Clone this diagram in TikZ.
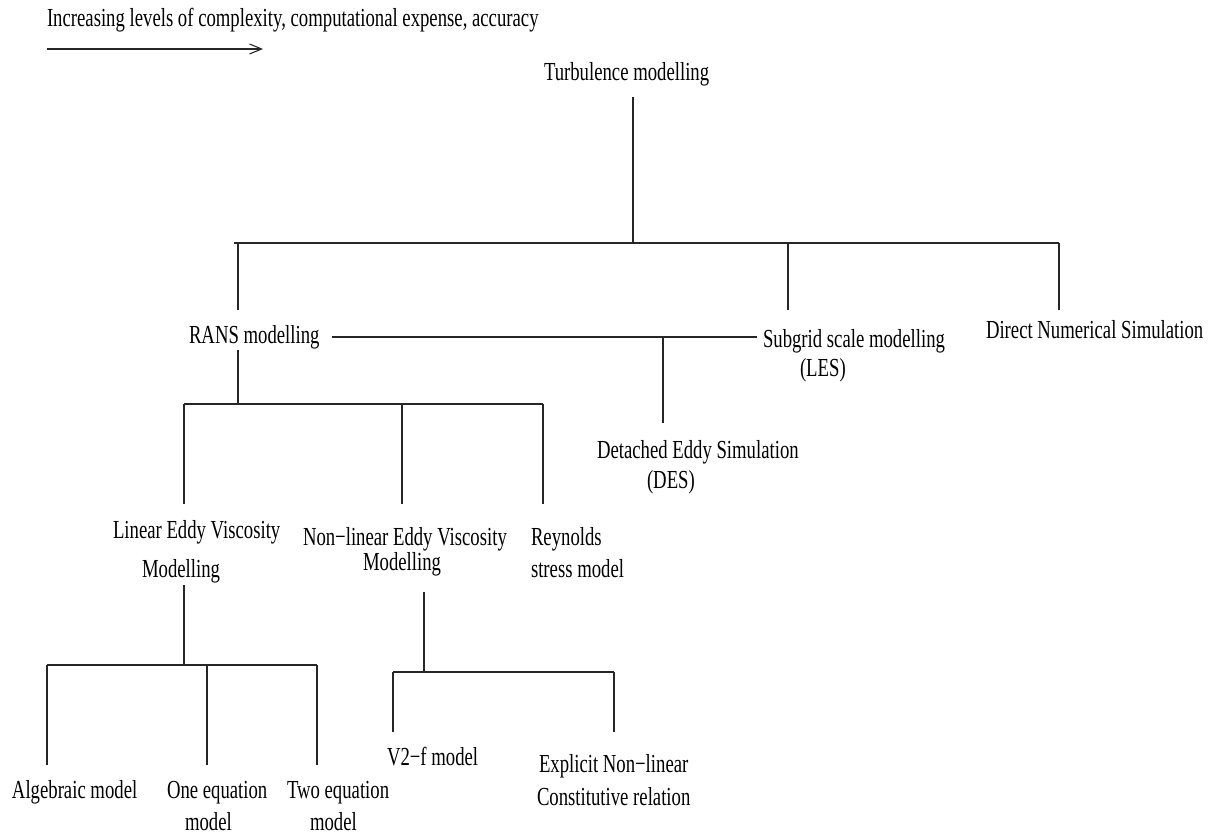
\documentclass[tikz,border=0pt]{standalone}
\usepackage{fontspec}
\setmainfont{Liberation Serif}[FakeStretch=0.72]
\usetikzlibrary{arrows.meta}
\begin{document}
\begin{tikzpicture}[x=1pt,y=-1pt,
  lab/.style={anchor=base west,inner sep=0pt,outer sep=0pt,font=\fontsize{26}{30}\selectfont},
  ln/.style={line width=1.1pt,line cap=butt,draw=black!85}]
\useasboundingbox (0,0) rectangle (1212,834);
% ---- labels ----
\node[lab] (title) at (47,27) {Increasing levels of complexity, computational expense, accuracy};
\node[lab] (turb) at (544,81) {Turbulence modelling};
\node[lab] (rans) at (189,343) {RANS modelling};
\node[lab] (sgsA) at (763,347) {Subgrid scale modelling};
\node[lab] (sgsB) at (800,376) {(LES)};
\node[lab] (dns) at (986,338) {Direct Numerical Simulation};
\node[lab] (desA) at (597,458) {Detached Eddy Simulation};
\node[lab] (desB) at (647,488) {(DES)};
\node[lab] (linA) at (113,538) {Linear Eddy Viscosity};
\node[lab] (linB) at (142,577) {Modelling};
\node[lab] (nlA) at (303,545) {Non−linear Eddy Viscosity};
\node[lab] (nlB) at (363,570) {Modelling};
\node[lab] (reyA) at (531,545) {Reynolds};
\node[lab] (reyB) at (531,577) {stress model};
\node[lab] (alg) at (12,798) {Algebraic model};
\node[lab] (oneA) at (167,798) {One equation};
\node[lab] (oneB) at (185,830) {model};
\node[lab] (twoA) at (287,798) {Two equation};
\node[lab] (twoB) at (310,830) {model};
\node[lab] (vtf) at (387,765) {V2−f model};
\node[lab] (expA) at (539,772) {Explicit Non−linear};
\node[lab] (expB) at (537,805) {Constitutive relation};
% ---- junction coordinates ----
\coordinate (arS) at (47,49);   \coordinate (arE) at (263,49);
\coordinate (tT) at (633,97);   \coordinate (tB) at (633,243);
\coordinate (b1L) at (234,243); \coordinate (b1R) at (1059,243);
\coordinate (r1) at (238,243);  \coordinate (r2) at (238,310);
\coordinate (s1) at (788,243);  \coordinate (s2) at (788,310);
\coordinate (d1) at (1059,243); \coordinate (d2) at (1059,310);
\coordinate (hL) at (332,337);  \coordinate (hR) at (757,337);
\coordinate (e1) at (663,337);  \coordinate (e2) at (663,423);
\coordinate (r3) at (238,350);  \coordinate (r4) at (238,404);
\coordinate (b2L) at (184,404); \coordinate (b2M) at (402,404); \coordinate (b2R) at (543,404);
\coordinate (l2) at (184,504);  \coordinate (n2) at (402,504);  \coordinate (y2) at (543,504);
\coordinate (l3) at (184,585);  \coordinate (l4) at (184,665);
\coordinate (b3L) at (47,665);  \coordinate (b3M) at (207,665); \coordinate (b3R) at (317,665);
\coordinate (a2) at (47,765);   \coordinate (o2) at (207,765);  \coordinate (w2) at (317,765);
\coordinate (n3) at (424,592);  \coordinate (n4) at (424,672);
\coordinate (b4L) at (393,672); \coordinate (b4R) at (614,672);
\coordinate (v2) at (393,732);  \coordinate (x2) at (614,732);
% ---- connectors ----
\draw[ln,-{Straight Barb[length=12pt,width=10pt]}] (arS) -- (arE);
\draw[ln] (tT) -- (tB);
\draw[ln] (b1L) -- (b1R);
\draw[ln] (r1) -- (r2);
\draw[ln] (s1) -- (s2);
\draw[ln] (d1) -- (d2);
\draw[ln] (hL) -- (hR);
\draw[ln] (e1) -- (e2);
\draw[ln] (r3) -- (r4);
\draw[ln] (b2L) -- (b2R);
\draw[ln] (b2L) -- (l2);
\draw[ln] (b2M) -- (n2);
\draw[ln] (b2R) -- (y2);
\draw[ln] (l3) -- (l4);
\draw[ln] (b3L) -- (b3R);
\draw[ln] (b3L) -- (a2);
\draw[ln] (b3M) -- (o2);
\draw[ln] (b3R) -- (w2);
\draw[ln] (n3) -- (n4);
\draw[ln] (b4L) -- (b4R);
\draw[ln] (b4L) -- (v2);
\draw[ln] (b4R) -- (x2);
\end{tikzpicture}
\end{document}
